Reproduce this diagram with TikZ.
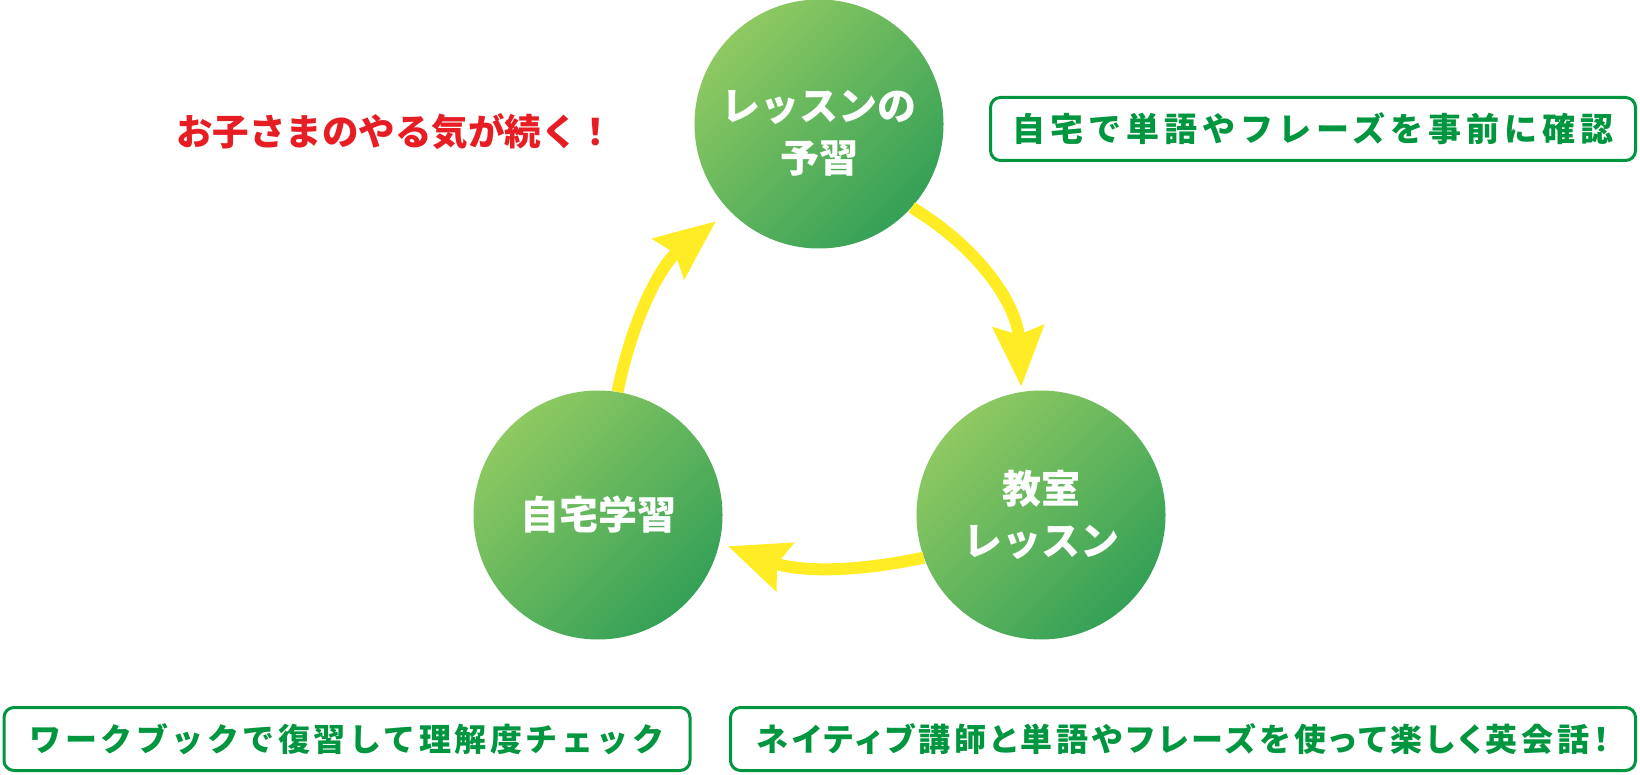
\documentclass[tikz,border=0pt]{standalone}
\usepackage{fontspec}
\newfontfamily\jpfont{Noto Sans CJK JP}
\usetikzlibrary{arrows.meta, positioning}

\definecolor{stagelight}{RGB}{143,201,98}
\definecolor{stagedark}{RGB}{52,160,87}
\definecolor{memogreen}{RGB}{0,150,64}
\definecolor{catchred}{RGB}{230,30,36}
\definecolor{cycleyellow}{RGB}{255,236,36}

\begin{document}
\begin{tikzpicture}[
  x=1pt, y=1pt,
  stage/.style={circle, minimum size=249pt, inner sep=0pt, shading=axis, top color=stagelight, bottom color=stagedark, shading angle=45, text=white, align=center, font=\jpfont\bfseries\fontsize{39}{52}\selectfont},
  memo/.style={draw=memogreen, line width=3pt, rounded corners=10pt, minimum height=63pt, inner sep=0pt, text=memogreen},
  cyclearr/.style={draw=cycleyellow, line width=12pt, -{Stealth[length=60pt, width=50pt, inset=8pt]}}
]
\useasboundingbox (0,0) rectangle (1640,774);

% the three steps
\node[stage, text height=100pt] (prep) at (819,650) {レッスンの\\予習};
\node[stage] (school) at (1041,259) {教室\\レッスン};
\node[stage] (home) at (598,259) {自宅学習};

% yellow cycle
\draw[cyclearr, shorten >=5pt] (prep.-42) to[bend left=28] (school.99);
\draw[cyclearr, shorten >=9pt] (school.200) to[bend left=16] (home.-13);
\draw[cyclearr, shorten >=17pt] (home.81) to[bend left=20] (prep.224);

% notes
\node[text=catchred, font=\jpfont\bfseries\fontsize{36.5}{40}\selectfont] (catch) at (395,642) {お子さまのやる気が続く！};
\node[memo, minimum width=645pt, font=\jpfont\bfseries\fontsize{33}{38}\selectfont\addfontfeature{LetterSpace=15}] (prepnote) at (1313,645) {自宅で単語やフレーズを事前に確認};
\node[memo, minimum width=686pt, font=\jpfont\bfseries\fontsize{32}{38}\selectfont\addfontfeature{LetterSpace=11}] (homenote) at (347,35) {ワークブックで復習して理解度チェック};
\node[memo, minimum width=905pt, font=\jpfont\bfseries\fontsize{32}{38}\selectfont\addfontfeature{RawFeature=+palt, LetterSpace=12}] (schoolnote) at (1183,35) {ネイティブ講師と単語やフレーズを使って楽しく英会話！};

\end{tikzpicture}
\end{document}
